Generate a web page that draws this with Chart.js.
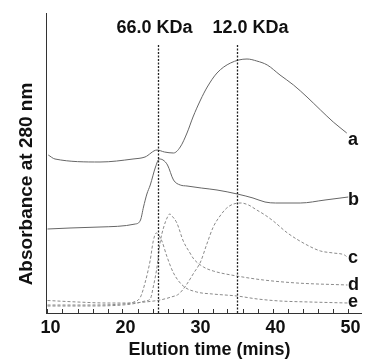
<!DOCTYPE html>
<html><head><meta charset="utf-8">
<script src="https://cdn.jsdelivr.net/npm/chart.js@4.4.1/dist/chart.umd.min.js"></script>
<style>html,body{margin:0;padding:0;background:#fff}canvas{display:block}</style>
</head><body>
<canvas id="c" width="365" height="363"></canvas>
<script>
// ---- data ----
const timeA = [10.1, 11, 17, 21.4, 23, 24.6, 25.6, 26.8, 27.7, 28.6, 29.4, 30.4, 31.3, 32.6, 34.4, 36.6, 37.9, 39.3, 41, 42.8, 44.6, 46.4, 48.1, 49.9];
const absA  = [158, 154, 151, 154, 156, 163, 161, 160, 166, 180, 196, 213, 226, 240, 250, 254, 252, 248, 238, 228, 216, 203, 191, 180];
const timeB = [10, 13, 17, 21.7, 22.4, 22.8, 23.25, 23.7, 24.4, 24.9, 25.4, 26, 26.8, 27.7, 28.6, 30.5, 32.6, 35.3, 37.4, 39, 40.4, 43.7, 47, 50.1];
const absB  = [84, 85, 86, 89, 93, 106, 119, 128, 146, 154, 153, 148, 133, 128, 127, 125, 123, 119, 115, 111, 110, 110, 113, 116];
const timeC = [10, 14, 18, 21, 23, 25, 26.5, 27.5, 28.5, 29.5, 30.4, 31.2, 32.1, 33, 33.9, 34.8, 35.8, 36.8, 37.9, 39, 40.1, 42, 44.6, 46.4, 48.1, 49.6, 50.1];
const absC  = [12.5, 11, 10, 10, 11, 13, 16, 19, 28, 40, 51, 68, 86, 97, 105, 109, 110, 108, 103, 98, 92, 80, 68, 62, 60, 58, 55];
const timeD = [10, 15, 20, 22, 23, 23.7, 24.1, 24.6, 25, 25.5, 26, 26.3, 26.6, 27.25, 28.1, 29, 29.5, 30.8, 32.1, 35.25, 38.8, 43.25, 50];
const absD  = [7, 7, 8, 10, 12, 14, 26, 46, 70, 86, 96, 99, 97, 90, 72, 60, 54, 46, 42, 37, 33, 30, 28];
const timeE = [10, 15, 20, 21.5, 22.4, 23, 23.7, 24.1, 24.5, 24.8, 25.25, 25.9, 26.8, 28.1, 29.9, 32, 35.25, 38, 41, 45, 50];
const absE  = [8, 8, 9, 11, 16, 30, 53, 72, 80, 78, 72, 57, 40, 27, 21, 19, 17, 14, 12, 11, 10];
const seriesLabels = ['a', 'b', 'c', 'd', 'e'];
const markerTimes  = [24.76, 35.3];
const markerLabels = ['66.0 KDa', '12.0 KDa'];
const xTickLabels  = [10, 20, 30, 40, 50];
const minorTickStep = 2;
const xTitle = 'Elution time (mins)';
const yTitle = 'Absorbance at 280 nm';

// ---- build ----
const pts = (xs, ys) => xs.map((v, i) => ({x: v, y: ys[i]}));
const FONT = '"Liberation Sans", Arial, sans-serif';
const solid = {borderColor: '#666', borderWidth: 1, borderDash: []};
const dashed = {borderColor: '#8a8a8a', borderWidth: 1, borderDash: [3, 2]};
const series = [
  [timeA, absA, solid], [timeB, absB, solid], [timeC, absC, dashed],
  [timeD, absD, dashed], [timeE, absE, dashed]
];

const annot = {
  id: 'annot',
  afterDraw(chart) {
    const {ctx, chartArea: ca, scales: {x, y}} = chart;
    ctx.save();
    // inward minor ticks
    ctx.strokeStyle = '#333'; ctx.lineWidth = 1; ctx.setLineDash([]);
    for (let v = xTickLabels[0]; v <= xTickLabels[xTickLabels.length - 1]; v += minorTickStep) {
      const px = Math.round(x.getPixelForValue(v)) + 0.5;
      ctx.beginPath(); ctx.moveTo(px, ca.bottom); ctx.lineTo(px, ca.bottom - 4); ctx.stroke();
    }
    // marker lines
    ctx.strokeStyle = '#222'; ctx.lineWidth = 1.3; ctx.setLineDash([2, 1.5]);
    const labelShift = [-4, 13];
    markerTimes.forEach((t, i) => {
      const px = Math.round(x.getPixelForValue(t)) + 0.5;
      ctx.beginPath(); ctx.moveTo(px, ca.top + 32); ctx.lineTo(px, ca.bottom); ctx.stroke();
      ctx.fillStyle = '#111'; ctx.font = 'bold 18px ' + FONT;
      ctx.textAlign = 'center'; ctx.textBaseline = 'alphabetic';
      ctx.fillText(markerLabels[i], px + labelShift[i], ca.top + 20);
    });
    ctx.setLineDash([]);
    // series labels
    const offs = [12, 8, 5, 5, 4];
    ctx.font = 'bold 18px ' + FONT; ctx.textAlign = 'left'; ctx.fillStyle = '#111';
    series.forEach((s, i) => {
      const ys = s[1];
      const py = y.getPixelForValue(ys[ys.length - 1]);
      ctx.fillText(seriesLabels[i], ca.right - 13, py + offs[i]);
    });
    // axis titles
    ctx.textAlign = 'center';
    ctx.font = 'bold 18px ' + FONT;
    ctx.fillText(xTitle, (ca.left + ca.right) / 2 + 6, ca.bottom + 42);
    ctx.save();
    ctx.translate(32, (ca.top + ca.bottom) / 2 + 21);
    ctx.rotate(-Math.PI / 2);
    ctx.font = 'bold 19px ' + FONT;
    ctx.fillText(yTitle, 0, 0);
    ctx.restore();
    ctx.restore();
  }
};

new Chart(document.getElementById('c'), {
  type: 'line',
  data: {
    datasets: series.map((s, i) => Object.assign({
      label: seriesLabels[i], data: pts(s[0], s[1]),
      pointRadius: 0, fill: false, cubicInterpolationMode: 'monotone'
    }, s[2]))
  },
  options: {
    responsive: false, animation: false, devicePixelRatio: 1,
    layout: {padding: {top: 13, right: 4, left: 0, bottom: 0}},
    plugins: {legend: {display: false}, tooltip: {enabled: false}},
    scales: {
      x: {
        type: 'linear', min: 9.8, max: 51.8,
        afterBuildTicks: sc => { sc.ticks = xTickLabels.map(v => ({value: v})); },
        afterFit: sc => { sc.height = 50; },
        grid: {display: false},
        border: {display: true, color: '#333', width: 1},
        ticks: {color: '#111', padding: -4, labelOffset: 3, maxRotation: 0, autoSkip: false,
                font: {family: FONT, size: 18, weight: 'bold'}}
      },
      y: {
        min: 0, max: 300,
        afterFit: sc => { sc.width = 46; },
        grid: {display: false},
        border: {display: true, color: '#333', width: 1},
        ticks: {display: false}
      }
    }
  },
  plugins: [annot]
});
</script>
</body></html>
